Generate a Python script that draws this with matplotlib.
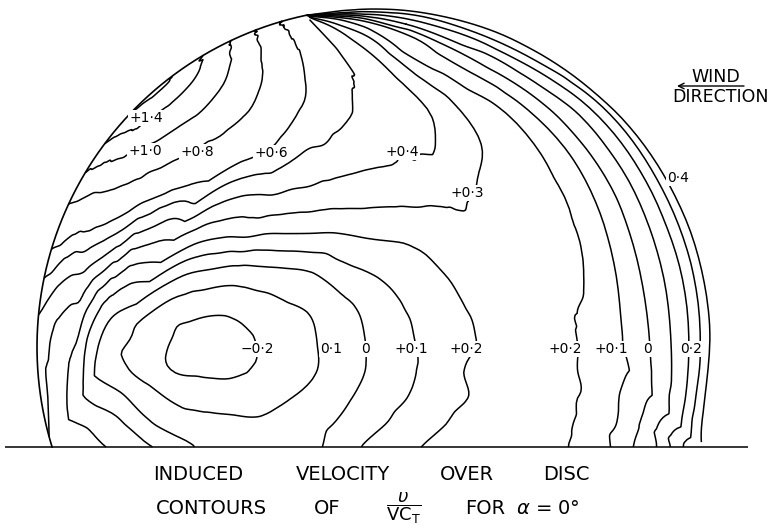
import numpy as np
import matplotlib
matplotlib.use("Agg")
import matplotlib.pyplot as plt
import matplotlib.tri as mtri

# v/(V C_T) over the disc, sampled along rays that fan out from the rim point
# where the contours bunch together.  Values are in hundredths.
# ray_dir  : ray direction, degrees measured clockwise from "to the right"
# ray_frac : fraction of the way from that rim point to the disc edge / ground line
ray_dir = [-11.5, -8, -4, 0, 5, 11, 18, 26, 35, 45, 48, 51, 53, 55, 60, 65, 74, 82, 89, 95, 100,
           105, 110, 116, 123, 131, 140, 149, 153.5, 157, 160, 162, 164, 166, 167.5]
ray_frac = [0.01, 0.05, 0.12, 0.21, 0.31, 0.41, 0.51, 0.6, 0.68, 0.75, 0.82, 0.88, 0.94, 1.0]
v_hundredths = [
    [-43, -44, -44, -44, -44, -44, -44, -44, -45, -45, -45, -45, -45, -45],
    [-40, -41, -41, -41, -41, -41, -41, -41, -41, -42, -42, -43, -44, -45],
    [-20, -22, -24, -26, -28, -29, -30, -31, -33, -35, -37, -39, -41, -45],
    [-7, -3, -3, -5, -8, -13, -18, -22, -26, -28, -32, -36, -40, -45],
    [10, 15, 17, 13, 7, -5, -10, -15, -20, -23, -30, -32, -37, -45],
    [22, 25, 24, 21, 15, 9, -1, -9, -12, -18, -24, -30, -36, -45],
    [27, 33, 32, 28, 16, 13, 8, 3, -2, -8, -13, -20, -29, -45],
    [41, 44, 39, 33, 26, 23, 21, 16, 9, 1, -7, -15, -27, -45],
    [45, 48, 44, 41, 38, 31, 25, 22, 17, 8, -2, -11, -23, -45],
    [49, 49, 48, 43, 41, 31, 26, 24, 21, 14, 6, -4, -18, -45],
    [51, 51, 49, 45, 41, 31, 27, 26, 21, 16, 11, 1, -14, -36],
    [52, 52, 51, 45, 41, 33, 27, 27, 26, 22, 17, 12, 3, -9],
    [52, 52, 51, 46, 42, 33, 25, 25, 27, 25, 21, 18, 12, 1],
    [52, 52, 51, 48, 41, 33, 25, 24, 25, 25, 24, 21, 17, 11],
    [52, 52, 52, 49, 43, 34, 23, 21, 21, 22, 25, 27, 25, 22],
    [52, 53, 53, 51, 44, 34, 22, 18, 17, 17, 21, 22, 25, 25],
    [52, 54, 55, 54, 46, 35, 21, 11, 7, 7, 8, 11, 16, 21],
    [52, 55, 57, 56, 49, 36, 19, 6, -2, -3, -2, 1, 5, 11],
    [52, 55, 59, 59, 50, 38, 19, -1, -9, -11, -11, -8, -4, -2],
    [52, 56, 61, 61, 53, 39, 19, -3, -12, -16, -15, -12, -9, -8],
    [52, 57, 63, 64, 56, 41, 19, -4, -15, -21, -21, -14, -9, -8],
    [52, 57, 65, 67, 60, 41, 21, -5, -18, -25, -22, -15, -7, 1],
    [53, 58, 67, 71, 63, 42, 21, -3, -17, -23, -21, -11, -2, 11],
    [53, 59, 70, 76, 67, 47, 25, 2, -12, -14, -11, 1, 14, 22],
    [53, 59, 74, 82, 77, 61, 39, 23, 8, 1, 5, 16, 24, 32],
    [53, 58, 73, 86, 91, 85, 74, 61, 53, 46, 41, 36, 35, 38],
    [54, 57, 68, 85, 98, 104, 103, 101, 96, 91, 85, 79, 76, 72],
    [54, 56, 61, 75, 89, 102, 112, 119, 124, 127, 130, 129, 128, 129],
    [55, 55, 58, 65, 79, 90, 101, 110, 119, 124, 128, 136, 142, 147],
    [55, 55, 58, 61, 71, 81, 90, 98, 105, 111, 117, 119, 125, 130],
    [55, 55, 56, 57, 61, 68, 75, 82, 88, 92, 98, 102, 106, 111],
    [55, 55, 55, 56, 58, 61, 66, 72, 78, 81, 84, 87, 90, 95],
    [55, 55, 55, 56, 57, 58, 59, 61, 63, 66, 69, 72, 74, 77],
    [55, 55, 55, 55, 56, 56, 56, 57, 57, 57, 58, 58, 58, 59],
    [55, 55, 55, 55, 55, 55, 55, 56, 56, 56, 56, 56, 56, 56],
]
levels = [-0.4, -0.3, -0.2, -0.1, 0, 0.1, 0.2, 0.3, 0.4, 0.5, 0.6, 0.8, 1.0, 1.2, 1.4]

label_text = ["+1·4", "+1·0", "+0·8", "+0·6", "+0·4", "+0·3", "−0·2", "0·1", "0", "+0·1",
              "+0·2", "+0·2", "+0·1", "0", "0·2", "0·4"]
label_px = [(146, 118), (145, 151), (197, 152), (271, 153), (402, 152), (467, 193), (257, 349),
            (331, 349), (366, 349), (411, 349), (466, 349), (565, 349), (611, 349), (647, 349),
            (691, 349), (678, 178)]

# disc of unit radius, ground line and rim point in the same units
W, H = 771, 530
CX, CY, RPX = 376.0, 347.0, 339.0        # disc centre / radius on the page, pixels
rim_deg = 102.0
ground = -100.0/RPX
px0, py0 = np.cos(np.radians(rim_deg)), np.sin(np.radians(rim_deg))


def reach(t):
    tr = np.radians(t)
    chord = 2*np.sin(tr + np.radians(rim_deg - 90))
    sn = np.sin(tr)
    drop = np.where(sn > 1e-9, (py0 - ground)/np.where(sn > 1e-9, sn, 1), np.inf)
    return np.minimum(chord, drop)


fig = plt.figure(figsize=(W/100, H/100), dpi=100)
ax = fig.add_axes([0, 0, 1, 1])
ax.set_xlim(-CX/RPX, (W-CX)/RPX)
ax.set_ylim((CY-H)/RPX, CY/RPX)
ax.axis('off')

TT, SS = np.meshgrid(np.array(ray_dir), np.array(ray_frac), indexing='ij')
field = np.array(v_hundredths, float).ravel()/100
ptri = mtri.Triangulation(TT.ravel()/90.0, SS.ravel())
interp = mtri.CubicTriInterpolator(ptri, field, kind='geom')
rtri, rz = mtri.UniformTriRefiner(ptri).refine_field(field, triinterpolator=interp, subdiv=3)
tt = rtri.x*90.0
rr = rtri.y*reach(tt)
xc = px0 + rr*np.cos(np.radians(tt))
yc = py0 - rr*np.sin(np.radians(tt))
disc_tri = mtri.Triangulation(xc, yc, rtri.triangles)
ax.tricontour(disc_tri, rz, levels=levels, colors='k', linewidths=1.1, linestyles='solid')

# rim on the left and the ground line
ph = np.radians(np.linspace(rim_deg, 180 + np.degrees(np.arcsin(-ground)), 200))
ax.plot(np.cos(ph), np.sin(ph), color='k', lw=1.2)
ax.hlines(ground, (5-CX)/RPX, (748-CX)/RPX, color='k', lw=1.1)

for txt, (x, y) in zip(label_text, label_px):
    fig.text(x/W, 1 - y/H, txt, ha='center', va='center', fontsize=10,
             bbox=dict(boxstyle='square,pad=0.1', fc='white', ec='none'))

# wind arrow
fig.text(716/W, 1 - 77/H, "WIND", ha='center', va='center', fontsize=12.5)
fig.text(721/W, 1 - 97/H, "DIRECTION", ha='center', va='center', fontsize=12.5)
ax.annotate("", xy=(677/W, 1 - 86/H), xycoords='figure fraction',
            xytext=(744/W, 1 - 86/H), textcoords='figure fraction',
            arrowprops=dict(arrowstyle='->', lw=1.0, color='k', shrinkA=0, shrinkB=0))

# caption
for txt, x in [("INDUCED", 198), ("VELOCITY", 343), ("OVER", 467), ("DISC", 566)]:
    fig.text(x/W, 1 - 475/H, txt, ha='center', va='center', fontsize=14)
for txt, x in [("CONTOURS", 211), ("OF", 327), ("FOR", 485)]:
    fig.text(x/W, 1 - 508/H, txt, ha='center', va='center', fontsize=14)
fig.text(404/W, 1 - 508/H, r"$\dfrac{\upsilon}{\mathrm{VC}_{\mathrm{T}}}$", ha='center', va='center', fontsize=13)
fig.text(516/W, 1 - 508/H, r"$\alpha$ = 0°", ha='left', va='center', fontsize=14)

fig.savefig("out.png", dpi=100)
